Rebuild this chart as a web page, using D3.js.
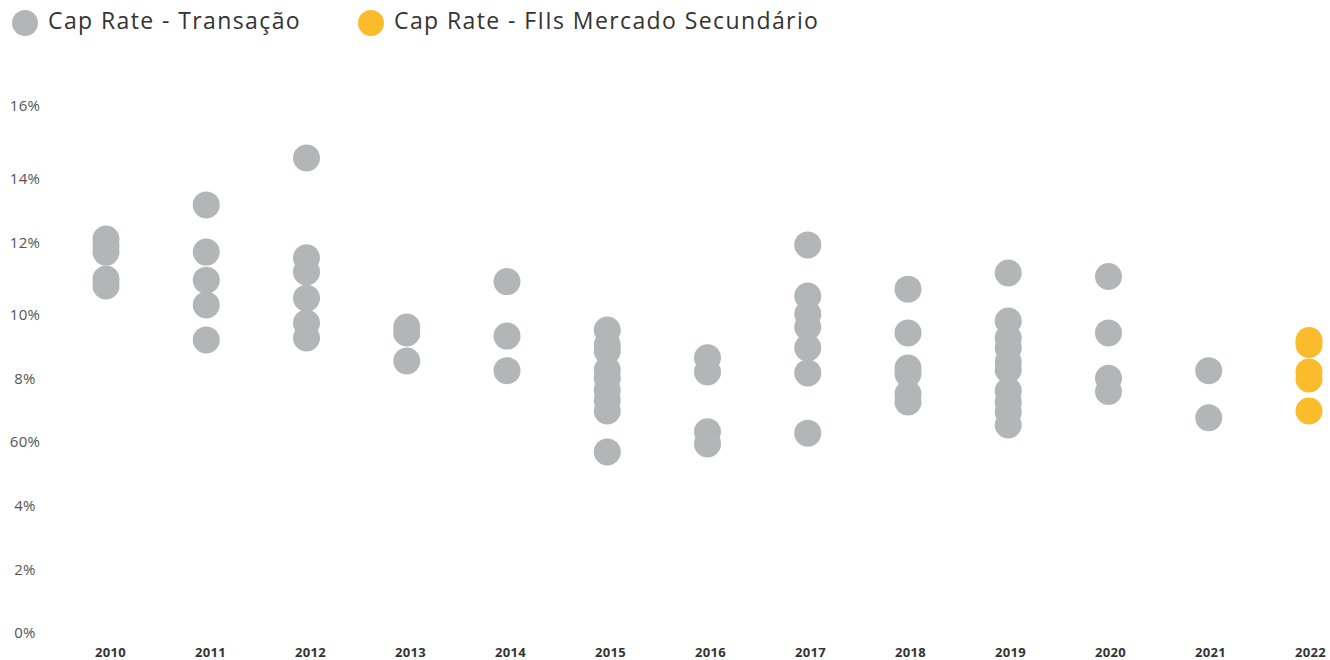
<!DOCTYPE html>
<html>
<head>
<meta charset="utf-8">
<script src="https://cdn.jsdelivr.net/npm/d3@7"></script>
<style>
  html, body { margin: 0; padding: 0; background: #fff; }
  svg { display: block; }
</style>
</head>
<body>
<svg id="chart" width="1330" height="660"></svg>
<script>
const years = ["2010","2011","2012","2013","2014","2015","2016","2017","2018","2019","2020","2021","2022"];

// Cap Rate - Transação (%), one array per year
const transacao = {
  "2010": [12.09, 11.89, 11.72, 10.97, 10.78],
  "2011": [13.16, 11.72, 10.94, 10.25, 9.19],
  "2012": [14.55, 11.56, 11.17, 10.44, 9.72, 9.25],
  "2013": [9.59, 9.41, 8.53],
  "2014": [10.90, 9.31, 8.23],
  "2015": [9.50, 9.03, 8.84, 8.25, 8.00, 7.62, 7.30, 6.95, 5.66],
  "2016": [8.63, 8.19, 6.29, 5.91],
  "2017": [11.92, 10.50, 10.00, 9.59, 8.94, 8.16, 6.25],
  "2018": [10.69, 9.41, 8.31, 8.13, 7.49, 7.24],
  "2019": [11.14, 9.78, 9.25, 8.94, 8.50, 8.25, 7.59, 7.24, 6.92, 6.51],
  "2020": [11.04, 9.41, 7.99, 7.57],
  "2021": [8.23, 6.74]
};
// Cap Rate - FIIs Mercado Secundário (%)
const fiis = {
  "2022": [9.17, 9.05, 8.19, 7.97, 6.95]
};

const yTickValues = [0, 2, 4, 6, 8, 10, 12, 14, 16];
const yTickLabels = ["0%", "2%", "4%", "60%", "8%", "10%", "12%", "14%", "16%"];

const legendLabels = ["Cap Rate - Transação", "Cap Rate - FIIs Mercado Secundário"];
const colors = ["#b3b6b7", "#fbbc2c"];

const svg = d3.select("#chart");
const font = "'Open Sans', sans-serif";

// piecewise-linear y scale matching the uneven tick spacing of the reference
const y = d3.scaleLinear()
  .domain(yTickValues)
  .range([632, 569, 505, 441, 378, 314, 242, 178, 105]);

const x = d3.scalePoint().domain(years).range([106, 1309]);
const xLab = d3.scalePoint().domain(years).range([110, 1310]);

// y axis labels
const yAxis = d3.axisLeft(y).tickValues(yTickValues)
  .tickFormat((d, i) => yTickLabels[i]).tickSize(0).tickPadding(0);
const gy = svg.append("g").attr("transform", "translate(25,0)").call(yAxis);
gy.select(".domain").remove();
gy.selectAll("text")
  .attr("text-anchor", "middle")
  .attr("dy", "0.35em")
  .attr("font-family", font)
  .attr("font-size", 15)
  .attr("letter-spacing", "0.3px")
  .attr("fill", "#555");

// x axis labels
const xAxis = d3.axisBottom(xLab).tickSize(0).tickPadding(0);
const gx = svg.append("g").attr("transform", "translate(0,646)").call(xAxis);
gx.select(".domain").remove();
gx.selectAll("text")
  .attr("dy", "0.35em")
  .attr("y", 6)
  .attr("font-family", font)
  .attr("font-size", 13)
  .attr("font-weight", "bold")
  .attr("letter-spacing", "0.3px")
  .attr("fill", "#333");

// points
const pts = [];
Object.entries(transacao).forEach(([yr, vals]) => vals.forEach(v => pts.push({yr, v, s: 0})));
Object.entries(fiis).forEach(([yr, vals]) => vals.forEach(v => pts.push({yr, v, s: 1})));

svg.append("g").selectAll("circle").data(pts).join("circle")
  .attr("cx", d => x(d.yr))
  .attr("cy", d => y(d.v))
  .attr("r", 13.5)
  .attr("fill", d => colors[d.s]);

// legend
const legendX = [25, 371];
const lg = svg.append("g");
legendLabels.forEach((lab, i) => {
  lg.append("circle").attr("cx", legendX[i]).attr("cy", 23).attr("r", 13).attr("fill", colors[i]);
  lg.append("text").attr("x", legendX[i] + 23).attr("y", 21).attr("dy", "0.35em")
    .attr("font-family", font).attr("font-size", 23).attr("letter-spacing", "1.4px")
    .attr("fill", "#333").text(lab);
});
</script>
</body>
</html>
